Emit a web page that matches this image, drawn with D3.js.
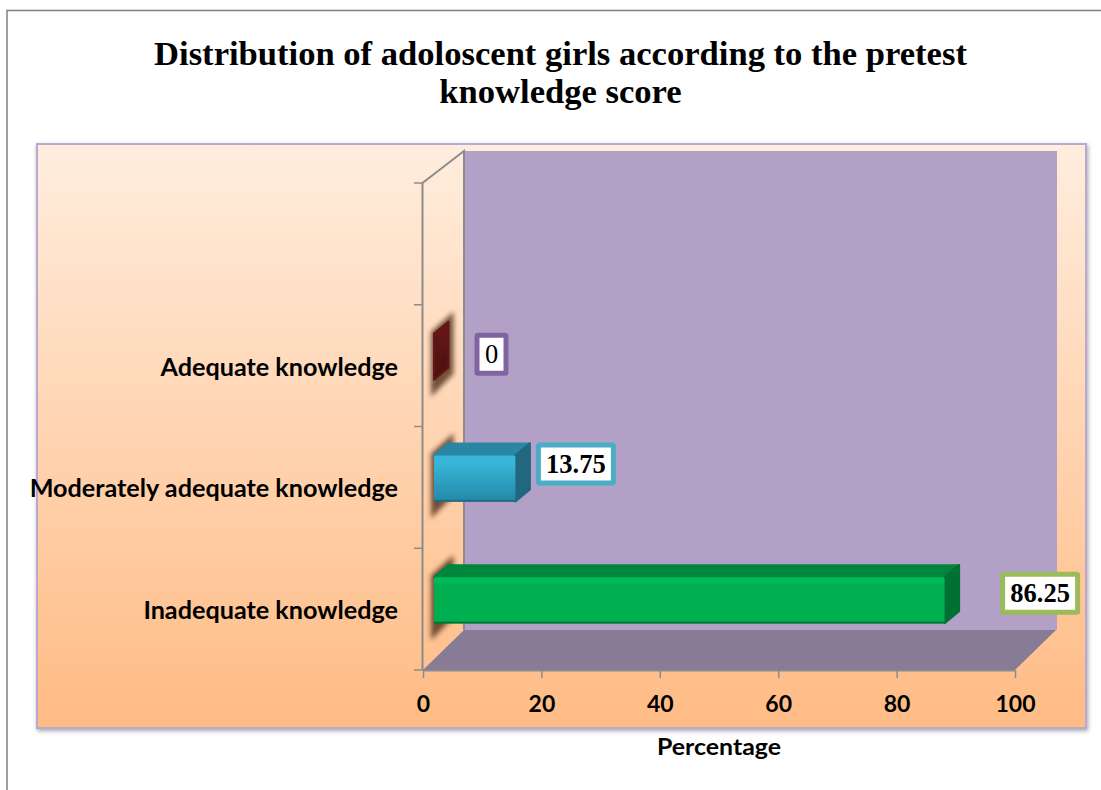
<!DOCTYPE html>
<html><head><meta charset="utf-8">
<script src="https://cdn.jsdelivr.net/npm/d3@7"></script>
<style>html,body{margin:0;padding:0;background:#fff}svg{display:block}</style>
</head><body><div id="c"></div>
<script>
const titleLines = ["Distribution of adoloscent girls according to the pretest","knowledge score"];
const categories = ["", "Adequate knowledge", "Moderately adequate knowledge", "Inadequate knowledge"];
const values = [null, 0, 13.75, 86.25];
const labels = [null, "0", "13.75", "86.25"];
const xTicks = [0,20,40,60,80,100];
const xTitle = "Percentage";

const W=1101,H=790;
const svg=d3.select("#c").append("svg").attr("width",W).attr("height",H);
const defs=svg.append("defs");
function grad(id,stops,x1=0,y1=0,x2=0,y2=1){const g=defs.append("linearGradient").attr("id",id).attr("x1",x1).attr("y1",y1).attr("x2",x2).attr("y2",y2);
 stops.forEach(s=>g.append("stop").attr("offset",s[0]).attr("stop-color",s[1]));}
grad("panel",[[0,"#FFEDDE"],[1,"#FFBB84"]]);
defs.append("filter").attr("id","blur").attr("x","-150%").attr("y","-30%").attr("width","400%").attr("height","160%").append("feGaussianBlur").attr("stdDeviation",2.6);
defs.append("filter").attr("id","pshadow").attr("x","-2%").attr("y","-2%").attr("width","104%").attr("height","104%").append("feDropShadow").attr("dx",1).attr("dy",2).attr("stdDeviation",2).attr("flood-color","#000").attr("flood-opacity",.35);

// outer frame
svg.append("path").attr("d",`M7,790V10.5H${W}`).attr("fill","none").attr("stroke","#808080").attr("stroke-width",1.5);
// panel
svg.append("rect").attr("x",37).attr("y",144).attr("width",1049).attr("height",584).attr("fill","url(#panel)").attr("stroke","#B9A8D0").attr("stroke-width",2).attr("filter","url(#pshadow)");
// title
svg.selectAll("text.t").data(titleLines).join("text").attr("class","t").attr("x",560.5).attr("y",(d,i)=>65+i*38)
 .attr("text-anchor","middle").attr("font-family","'Liberation Serif'").attr("font-weight","bold").attr("font-size",34.6).attr("fill","#000").text(d=>d);

const x=d3.scaleLinear().domain([0,100]).range([423,1015]);
const y=d3.scaleBand().domain(categories).range([183,670]);
const dx=41,dy=-40;
const x0=x(0),x1=x(100),yT=y.range()[0],yB=y.range()[1];
// back wall
svg.append("rect").attr("x",x0+dx).attr("y",yT+dy+8).attr("width",x1-x0+1).attr("height",yB-yT-8).attr("fill","#B2A0C7");
// floor
svg.append("path").attr("d",`M${x0},${yB}L${x0+dx},${yB+dy}H${x1+dx}L${x1},${yB}Z`).attr("fill","#877B96");
// wall lines
svg.append("path").attr("d",`M${x0-.5},${yB}V${yT}L${x0+dx},${yT+dy+8}V${yB+dy}`).attr("fill","none").attr("stroke","#8C8C8C").attr("stroke-width",2);
svg.append("path").attr("d",`M${x0},${yB+.5}H${x1}`).attr("stroke","#8C8C8C").attr("stroke-width",2);

// axes
const gx=svg.append("g").attr("transform",`translate(0,${yB})`).call(d3.axisBottom(x).tickValues(xTicks).tickSize(8).tickSizeOuter(0).tickFormat(d3.format("d")));
gx.select(".domain").remove();
gx.selectAll("line").attr("stroke","#8C8C8C").attr("stroke-width",1.5);
gx.selectAll("text").attr("dy",0).attr("font-family","Lato").attr("font-weight","bold").attr("font-size",23).attr("fill","#000").attr("y",42);
const gy=svg.append("g").attr("transform",`translate(${x0},0)`);
[...categories.map(c=>y(c)),yB].forEach(t=>gy.append("line").attr("x1",-9).attr("x2",0).attr("y1",t).attr("y2",t).attr("stroke","#8C8C8C").attr("stroke-width",1.5));
svg.append("text").attr("x",719).attr("y",755).attr("text-anchor","middle").attr("font-family","Lato").attr("font-weight","bold").attr("font-size",23).attr("textLength",124).attr("lengthAdjust","spacingAndGlyphs").attr("fill","#000").text(xTitle);

// bars
const palette={"Adequate knowledge":["#641616","#4a0f0f","#5c1414","#3a0c0c"],
 "Moderately adequate knowledge":["#38B6DA","#2389A6","#2A87A3","#21677F"],
 "Inadequate knowledge":["#00BC58","#00B050","#00853D","#007033"]};
const boxGap={"Adequate knowledge":26,"Moderately adequate knowledge":6,"Inadequate knowledge":41};
const boxShift={"Adequate knowledge":-2.5,"Moderately adequate knowledge":-14.5,"Inadequate knowledge":-7};
const boxCol={"Adequate knowledge":"#8064A2","Moderately adequate knowledge":"#4BACC6","Inadequate knowledge":"#9BBB59"};
const zOff=11,sx=14.5,oy=-12,bh=46;
const round=g=>g.attr("stroke-linejoin","round").attr("stroke-width",2);
categories.forEach((c,i)=>{ if(!c) return;
 const v=values[i],p=palette[c],g=svg.append("g");
 const L=x(0)+zOff,R=x(v)+zOff,cy=y(c)+y.bandwidth()/2-9,T=cy-bh/2,B=cy+bh/2;
 g.append("path").attr("d",`M${L-3},${T-2}L${L+sx+5},${T+oy-10}V${B+oy+6}L${L-3},${B+17}Z`).attr("fill","#4a2c16").attr("opacity",.78).attr("filter","url(#blur)");
 const id="f"+i;
 if(c===categories[3]) grad(id,[[0,p[0]],[.1,p[0]],[.16,p[1]],[1,p[1]]]);
 else grad(id,[[0,p[0]],[.15,p[0]],[1,p[1]]]);
 if(v>0){
  g.append("path").attr("d",`M${L},${T}L${L+sx},${T+oy}H${R+sx}L${R},${T}Z`).attr("fill",p[2]).attr("stroke",p[2]).call(round);
  g.append("path").attr("d",`M${R},${T}L${R+sx},${T+oy}V${B+oy}L${R},${B}Z`).attr("fill",p[3]).attr("stroke",p[3]).call(round);
  g.append("rect").attr("x",L).attr("y",T).attr("width",R-L).attr("height",bh).attr("rx",1.5).attr("fill",`url(#${id})`);
  g.append("rect").attr("x",L).attr("y",B-1.5).attr("width",R-L).attr("height",2).attr("fill",p[3]).attr("opacity",.9);
 } else {
  g.append("path").attr("d",`M${R},${T}L${R+sx},${T+oy}V${B+oy}L${R},${B}Z`).attr("fill",`url(#${id})`).attr("stroke",p[0]).call(round);
 }
 // data label box
 const outerW=v>0?80:34,outerH=43,bx=R+sx+boxGap[c],by=cy+boxShift[c]-outerH/2;
 svg.append("rect").attr("x",bx+2.5).attr("y",by+2.5).attr("width",outerW-5).attr("height",outerH-5).attr("fill","#fff").attr("stroke",boxCol[c]).attr("stroke-width",5).attr("rx",1);
 svg.append("text").attr("x",bx+outerW/2).attr("y",by+outerH/2+9).attr("text-anchor","middle").attr("font-family","'Liberation Serif'").attr("font-weight",v>0?"bold":"normal").attr("font-size",26.5).attr("fill","#000").text(labels[i]);
});
// category labels (drawn last; the longest overruns the panel edge)
svg.selectAll("text.c").data(categories.filter(c=>c)).join("text").attr("class","c").attr("x",398)
 .attr("y",d=>y(d)+y.bandwidth()/2+10).attr("text-anchor","end").attr("font-family","Lato").attr("font-weight","bold").attr("font-size",25.2).attr("fill","#000").text(d=>d);
</script></body></html>
